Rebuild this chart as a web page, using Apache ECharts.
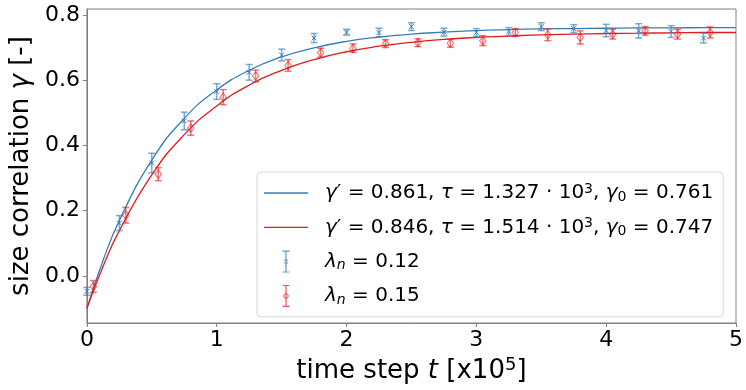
<!DOCTYPE html>
<html><head><meta charset="utf-8">
<script src="https://cdn.jsdelivr.net/npm/echarts@6/dist/echarts.min.js"></script>
<style>html,body{margin:0;padding:0;background:#fff}#c{width:746px;height:390px}</style>
</head><body><div id="c"></div>
<script>
// fitted curves
const fitX = [0,0.125,0.25,0.5,0.75,1.0,1.25,1.5,1.75,2.0,2.25,2.5,2.75,3.0,3.25,3.5,3.75,4.0,4.25,4.5,4.75,5.0];
const fitBlue = [-0.100,0.048,0.170,0.355,0.483,0.570,0.630,0.671,0.699,0.719,0.732,0.741,0.747,0.752,0.755,0.757,0.758,0.759,0.760,0.760,0.761,0.761];
const fitRed = [-0.099,0.030,0.139,0.310,0.433,0.521,0.585,0.630,0.663,0.687,0.704,0.716,0.725,0.731,0.735,0.739,0.741,0.743,0.744,0.745,0.746,0.746];
// measured points lambda_n = 0.12
const blueX = [0,0.25,0.5,0.75,1.0,1.25,1.5,1.75,2.0,2.25,2.5,2.75,3.0,3.25,3.5,3.75,4.0,4.25,4.5,4.75];
const blueY = [-0.047,0.162,0.346,0.475,0.565,0.624,0.677,0.729,0.747,0.746,0.764,0.747,0.746,0.749,0.764,0.758,0.752,0.751,0.749,0.729];
const blueErr = [0.012,0.023,0.030,0.027,0.024,0.024,0.018,0.014,0.009,0.013,0.012,0.012,0.012,0.012,0.012,0.012,0.019,0.022,0.018,0.015];
// measured points lambda_n = 0.15
const redX = [0.05,0.3,0.55,0.8,1.05,1.3,1.55,1.8,2.05,2.3,2.55,2.8,3.05,3.3,3.55,3.8,4.05,4.3,4.55,4.8];
const redY = [-0.032,0.186,0.312,0.453,0.548,0.613,0.645,0.684,0.698,0.712,0.715,0.713,0.721,0.746,0.739,0.731,0.741,0.751,0.741,0.746];
const redErr = [0.018,0.024,0.020,0.022,0.023,0.018,0.018,0.014,0.013,0.012,0.012,0.012,0.015,0.012,0.018,0.020,0.015,0.013,0.015,0.017];
// ticks
const xTicks = [0,1,2,3,4,5];
const yTicks = [0,0.2,0.4,0.6,0.8];

const BLUE = '#377eb8', RED = '#e41a1c';
const FONT = 'DejaVu Sans';

const legendLabels = {
  fitA: '{i|γ}{n|′ = 0.861, }{i|τ}{n| = 1.327 · 10}{sup|3}{n|, }{i|γ}{sub|0}{n| = 0.761}',
  fitB: '{i|γ}{n|′ = 0.846, }{i|τ}{n| = 1.514 · 10}{sup|3}{n|, }{i|γ}{sub|0}{n| = 0.747}',
  dataA: '{i|λ}{subi|n}{n| = 0.12}',
  dataB: '{i|λ}{subi|n}{n| = 0.15}'
};

const corners = 'M0,0L0.01,0L0,0.01Z M44,22L43.99,22L44,21.99Z ';
const iconLine = 'path://' + corners + 'M0,10.35H44V11.65H0Z';
const ebar = 'M18.5,0H25.5V1.2H18.5Z M18.5,20.8H25.5V22H18.5Z M21.4,1H22.6V21H21.4Z ';
const iconX = 'path://' + corners + ebar +
  'M19.7,9.2L20.2,8.7L24.3,12.8L23.8,13.3Z M23.8,8.7L24.3,9.2L20.2,13.3L19.7,12.8Z';
const iconD = 'path://' + corners + ebar +
  'M22,7L25,11L22,15L19,11Z M22,8.3L20.1,11L22,13.7L23.9,11Z';

function errRender(kind, color, alphaColor) {
  return function (params, api) {
    const x = api.value(0), y = api.value(1), e = api.value(2);
    const c = api.coord([x, y]);
    const lo = api.coord([x, y - e]);
    const hi = api.coord([x, y + e]);
    const cw = 3.5;
    const bs = { stroke: alphaColor, lineWidth: 1.5, fill: null };
    const ch = [
      { type: 'line', shape: { x1: lo[0], y1: lo[1], x2: hi[0], y2: hi[1] }, style: bs },
      { type: 'line', shape: { x1: lo[0] - cw, y1: lo[1], x2: lo[0] + cw, y2: lo[1] }, style: bs },
      { type: 'line', shape: { x1: hi[0] - cw, y1: hi[1], x2: hi[0] + cw, y2: hi[1] }, style: bs }
    ];
    if (kind === 'x') {
      const s = 2.4;
      const ms = { stroke: color, lineWidth: 1, fill: null };
      ch.push({ type: 'line', shape: { x1: c[0] - s, y1: c[1] - s, x2: c[0] + s, y2: c[1] + s }, style: ms });
      ch.push({ type: 'line', shape: { x1: c[0] - s, y1: c[1] + s, x2: c[0] + s, y2: c[1] - s }, style: ms });
    } else {
      ch.push({ type: 'polygon', shape: { points: [[c[0], c[1] - 4.3], [c[0] + 3.2, c[1]], [c[0], c[1] + 4.3], [c[0] - 3.2, c[1]]] },
        style: { fill: null, stroke: alphaColor, lineWidth: 1.1 } });
    }
    return { type: 'group', children: ch };
  };
}

const chart = echarts.init(document.getElementById('c'), null, { renderer: 'canvas' });
chart.setOption({
  animation: false,
  backgroundColor: '#fff',
  textStyle: { fontFamily: FONT },
  grid: { left: 84, right: 8, top: 9, bottom: 67, show: true, borderColor: '#808080', borderWidth: 1, backgroundColor: 'transparent' },
  xAxis: {
    type: 'value', min: 0, max: 5, interval: 1,
    name: '{n|time step }{i|t}{n| [x10}{sup|5}{n|]}',
    nameLocation: 'middle', nameGap: 31,
    nameTextStyle: {
      rich: {
        n: { fontSize: 26, fontFamily: FONT, color: '#000', lineHeight: 30 },
        i: { fontSize: 26, fontFamily: FONT, fontStyle: 'italic', color: '#000', lineHeight: 30 },
        sup: { fontSize: 18, fontFamily: FONT, color: '#000', lineHeight: 18, verticalAlign: 'top' }
      }
    },
    axisLine: { onZero: false, lineStyle: { color: '#808080', width: 1 } },
    axisTick: { length: 4, lineStyle: { color: '#808080' } },
    axisLabel: { fontSize: 22, color: '#000', fontFamily: FONT, margin: 6, formatter: v => xTicks.includes(v) ? String(v) : '' },
    splitLine: { show: false }
  },
  yAxis: {
    type: 'value', min: -0.144, max: 0.818,
    name: '{n|size correlation }{i|γ}{n| [-]}',
    nameLocation: 'middle', nameGap: 50,
    nameTextStyle: {
      rich: {
        n: { fontSize: 26, fontFamily: FONT, color: '#000', lineHeight: 30 },
        i: { fontSize: 26, fontFamily: FONT, fontStyle: 'italic', color: '#000', lineHeight: 30 }
      }
    },
    axisLine: { show: true, onZero: false, lineStyle: { color: '#808080', width: 1 } },
    axisTick: { show: true, length: 4, lineStyle: { color: '#808080' }, customValues: yTicks },
    axisLabel: { fontSize: 22, color: '#000', fontFamily: FONT, margin: 7, customValues: yTicks, formatter: v => v.toFixed(1) },
    splitLine: { show: false }
  },
  legend: {
    orient: 'vertical', left: 257, top: 172,
    padding: [10, 10, 10, 7],
    itemWidth: 44, itemHeight: 22, itemGap: 12.3,
    backgroundColor: 'rgba(255,255,255,0.8)', borderColor: '#d8d8d8', borderWidth: 1, borderRadius: 4,
    data: [{ name: 'fitA', icon: iconLine }, { name: 'fitB', icon: iconLine }, { name: 'dataA', icon: iconX }, { name: 'dataB', icon: iconD }],
    formatter: n => legendLabels[n],
    textStyle: {
      padding: [0, 0, 0, 12],
      rich: {
        n: { fontSize: 20, fontFamily: FONT, color: '#000', lineHeight: 22 },
        i: { fontSize: 20, fontFamily: FONT, fontStyle: 'italic', color: '#000', lineHeight: 22 },
        sup: { fontSize: 14, fontFamily: FONT, color: '#000', lineHeight: 14, verticalAlign: 'top' },
        sub: { fontSize: 14, fontFamily: FONT, color: '#000', lineHeight: 14, verticalAlign: 'bottom' },
        subi: { fontSize: 14, fontFamily: FONT, fontStyle: 'italic', color: '#000', lineHeight: 14, verticalAlign: 'bottom' }
      }
    }
  },
  series: [
    { name: 'fitA', type: 'line', data: fitX.map((x, i) => [x, fitBlue[i]]), smooth: true,
      symbol: 'none', showSymbol: false, lineStyle: { color: BLUE, width: 1.3 }, itemStyle: { color: BLUE }, z: 2 },
    { name: 'fitB', type: 'line', data: fitX.map((x, i) => [x, fitRed[i]]), smooth: true,
      symbol: 'none', showSymbol: false, lineStyle: { color: RED, width: 1.3 }, itemStyle: { color: RED }, z: 2 },
    { name: 'dataA', type: 'custom', data: blueX.map((x, i) => [x, blueY[i], blueErr[i]]), encode: { x: 0, y: 1 },
      renderItem: errRender('x', BLUE, 'rgba(55,126,184,0.65)'), itemStyle: { color: 'rgba(55,126,184,0.8)' }, z: 3 },
    { name: 'dataB', type: 'custom', data: redX.map((x, i) => [x, redY[i], redErr[i]]), encode: { x: 0, y: 1 },
      renderItem: errRender('d', RED, 'rgba(228,26,28,0.6)'), itemStyle: { color: 'rgba(228,26,28,0.75)' }, z: 3 }
  ]
});
</script>
</body></html>
